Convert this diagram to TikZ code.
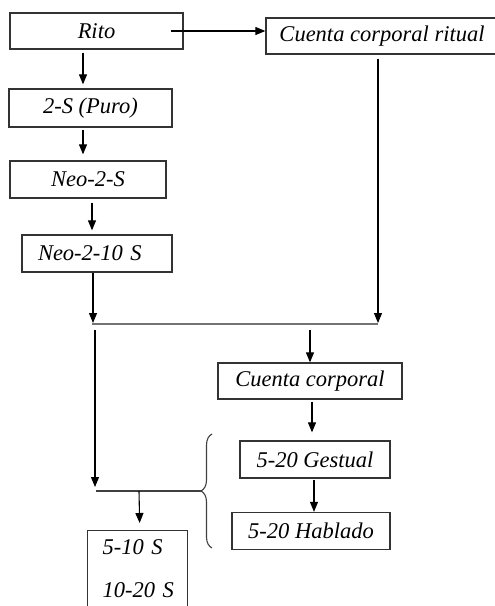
\documentclass[tikz,border=0pt]{standalone}
\usepackage{fontspec}
\setmainfont{Liberation Serif}
\usetikzlibrary{arrows.meta,decorations.pathreplacing,calc}
\begin{document}
\begin{tikzpicture}[x=1pt,y=-1pt,
  box/.style={draw=black!80, line width=1.3pt, inner sep=0pt,
    font=\fontsize{22.5}{26}\selectfont\itshape},
  arr/.style={line width=1.1pt, -{Triangle[length=10pt,width=8pt]}},
  joinline/.style={line width=1.5pt, draw=black!55},
  plain/.style={line width=1.1pt, draw=black!75}]
\useasboundingbox (0,0) rectangle (495,606);
% boxes
\node[box, minimum width=173pt, minimum height=36pt] (rito) at (96.5,31) {Rito};
\node[box, minimum width=232pt, minimum height=36pt] (ccr) at (382,36) {Cuenta corporal ritual};
\node[box, minimum width=163pt, minimum height=38pt] (puro) at (90.5,108) {2-S (Puro)};
\node[box, minimum width=156pt, minimum height=37pt] (neo) at (88,179.5) {Neo-2-S};
\node[box, minimum width=150pt, minimum height=37pt, text width=118pt, align=left, inner xsep=16pt] (neoten) at (97,253.5) {Neo-2-10 S};
\node[box, minimum width=184pt, minimum height=36pt] (cc) at (310,381) {Cuenta corporal};
\node[box, minimum width=150pt, minimum height=37pt] (ges) at (315,459.5) {5-20 Gestual};
\node[box, minimum width=158pt, minimum height=37pt] (hab) at (311,531) {5-20 Hablado};
\node[box, anchor=north west, text width=70pt, align=left, inner xsep=15pt, inner ysep=9pt,
  font=\fontsize{22.5}{43}\selectfont\itshape] (bot) at (87,530) {5-10 S\\\mbox{10-20 S}};
% junction coordinates
\coordinate (a0) at (171,31);
\coordinate (jl) at (92,324);
\coordinate (jr) at (378,324);
\coordinate (jm) at (310,324);
\coordinate (bl) at (96,491);
\coordinate (bt) at (201,491);
\coordinate (bm) at (139,491);
% connectors
\draw[arr] (a0) -- (a0 -| ccr.west);
\draw[arr] ($(rito.south)+(-13.5,3)$) -- ($(puro.north)+(-7.5,-4)$);
\draw[arr] ($(puro.south)+(-7.5,2)$) -- ($(neo.north)+(-5,-6)$);
\draw[arr] ($(neo.south)+(4,4)$) -- ($(neoten.north)+(-5,-4)$);
\draw[arr] ($(neoten.south)+(-4,0)$) -- ($(jl)+(1,-1)$);
\draw[arr] ($(ccr.south)+(-4,4)$) -- ($(jr)+(0,-1)$);
\draw[joinline] (jl) -- (jr);
\draw[arr] ($(jl)+(3,6)$) -- ($(bl)+(-1,-4)$);
\draw[arr] ($(jm)+(0,6)$) -- (cc.north);
\draw[arr] ($(cc.south)+(2,2)$) -- ($(ges.north)+(-3,-8)$);
\draw[arr] ($(ges.south)+(-1,1)$) -- ($(hab.north)+(3,0)$);
\draw[plain, decorate, decoration={brace, amplitude=11pt, aspect=0.5}] (212,548) -- (212,434);
\draw[plain] (bl) -- (bt);
\draw[arr] (bm) -- ($(bot.north)+(2,-7)$);
\end{tikzpicture}
\end{document}
